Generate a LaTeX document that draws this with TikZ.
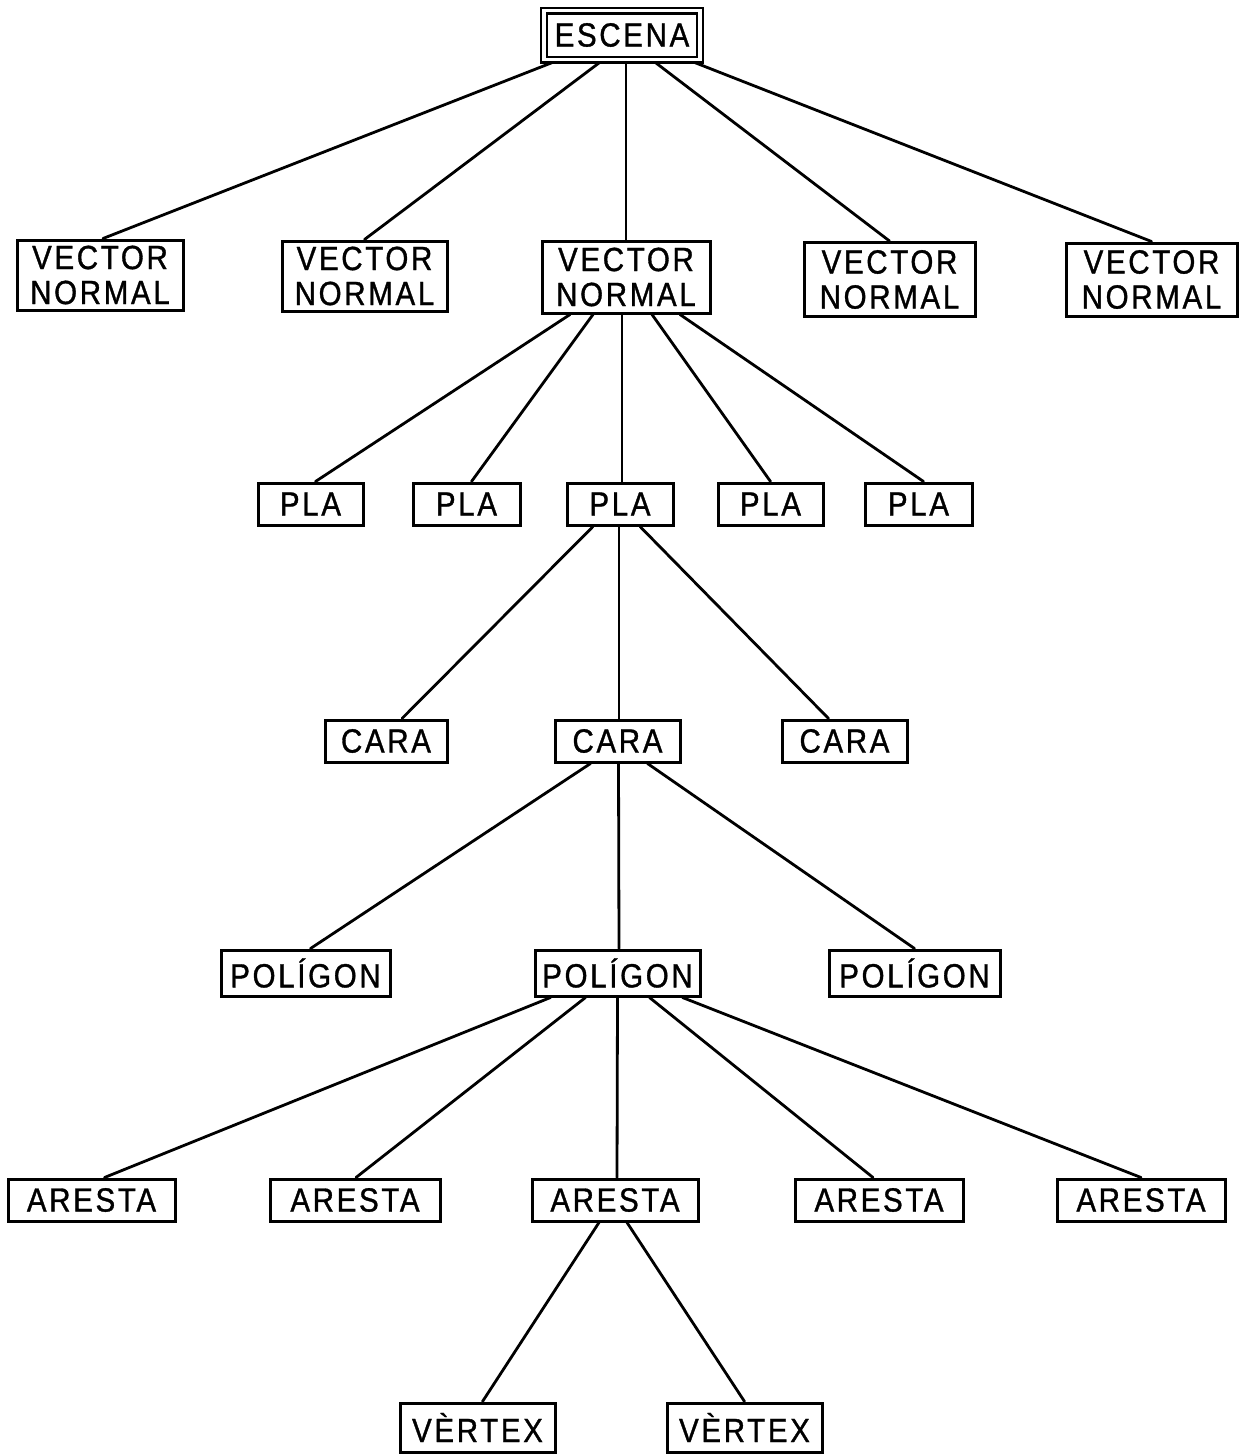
\documentclass[tikz,border=0pt]{standalone}
\usepackage{fontspec}
\setmainfont[FakeStretch=0.88, LetterSpace=8, FakeBold=1]{Liberation Sans}
\usetikzlibrary{backgrounds}
\tikzset{
  box/.style={draw, line width=3pt, fill=white, inner sep=0pt, align=center,
              font=\fontsize{33.5}{35}\selectfont},
  link/.style={line width=2.8pt, line cap=round},
}
% connector from a parent's bottom edge to a child's top edge, with horizontal offsets
\newcommand\conn[4]{\draw[link] ([xshift=#2pt]#1.south) -- ([xshift=#4pt]#3.north);}

\begin{document}
\begin{tikzpicture}[x=1pt,y=-1pt]
\useasboundingbox (0,0) rectangle (1243,1456);

% root
\node[box, double, line width=2.4pt, double distance=3.2pt,
      minimum width=156pt, minimum height=49pt] (escena) at (622,35) {ESCENA};

% normal vectors
\node[box, minimum width=166pt, minimum height=70pt] (vn1) at (100,275)   {VECTOR\\NORMAL};
\node[box, minimum width=165pt, minimum height=70pt] (vn2) at (364.5,276) {VECTOR\\NORMAL};
\node[box, minimum width=168pt, minimum height=72pt] (vn3) at (626,277)   {VECTOR\\NORMAL};
\node[box, minimum width=171pt, minimum height=74pt] (vn4) at (889.5,279.5) {VECTOR\\NORMAL};
\node[box, minimum width=171pt, minimum height=73pt] (vn5) at (1151.5,279.5) {VECTOR\\NORMAL};

% planes
\node[box, minimum width=105pt, minimum height=42pt] (pla1) at (310.5,504) {PLA};
\node[box, minimum width=107pt, minimum height=42pt] (pla2) at (466.5,504) {PLA};
\node[box, minimum width=106pt, minimum height=42pt] (pla3) at (620,504)   {PLA};
\node[box, minimum width=105pt, minimum height=42pt] (pla4) at (770.5,504) {PLA};
\node[box, minimum width=107pt, minimum height=42pt] (pla5) at (918.5,504) {PLA};

% faces
\node[box, minimum width=122pt, minimum height=42pt] (cara1) at (386,741)   {CARA};
\node[box, minimum width=125pt, minimum height=42pt] (cara2) at (617.5,741) {CARA};
\node[box, minimum width=125pt, minimum height=42pt] (cara3) at (844.5,741) {CARA};

% polygons
\node[box, minimum width=169pt, minimum height=46pt] (pol1) at (305.5,973) {POLÍGON};
\node[box, minimum width=165pt, minimum height=46pt] (pol2) at (617.5,973) {POLÍGON};
\node[box, minimum width=171pt, minimum height=46pt] (pol3) at (914.5,973) {POLÍGON};

% edges
\node[box, minimum width=167pt, minimum height=42pt] (ar1) at (91.5,1200) {ARESTA};
\node[box, minimum width=170pt, minimum height=42pt] (ar2) at (355,1200)  {ARESTA};
\node[box, minimum width=166pt, minimum height=42pt] (ar3) at (615,1200)  {ARESTA};
\node[box, minimum width=168pt, minimum height=42pt] (ar4) at (879,1200)  {ARESTA};
\node[box, minimum width=168pt, minimum height=42pt] (ar5) at (1141,1200) {ARESTA};

% vertices
\node[box, minimum width=155pt, minimum height=49pt] (vx1) at (477.5,1427.5) {VÈRTEX};
\node[box, minimum width=155pt, minimum height=49pt] (vx2) at (744.5,1427.5) {VÈRTEX};

\begin{scope}[on background layer]
  \fill[white] (0,0) rectangle (1243,1456);
  \conn{escena}{-65}{vn1}{3}
  \conn{escena}{-20}{vn2}{0}
  \conn{escena}{4}{vn3}{0}
  \conn{escena}{31}{vn4}{0}
  \conn{escena}{68}{vn5}{0}

  \conn{vn3}{-56}{pla1}{5}
  \conn{vn3}{-33}{pla2}{5}
  \conn{vn3}{-4}{pla3}{2}
  \conn{vn3}{26}{pla4}{0}
  \conn{vn3}{54}{pla5}{5}

  \conn{pla3}{-27}{cara1}{16}
  \conn{pla3}{-1}{cara2}{1.5}
  \conn{pla3}{20}{cara3}{-16}

  \conn{cara2}{-27}{pol1}{5}
  \conn{cara2}{1}{pol2}{1.5}
  \conn{cara2}{30}{pol3}{0}

  \conn{pol2}{-67}{ar1}{13}
  \conn{pol2}{-32}{ar2}{1}
  \conn{pol2}{0}{ar3}{2}
  \conn{pol2}{32}{ar4}{-6}
  \conn{pol2}{65}{ar5}{0}

  \conn{ar3}{-16}{vx1}{5}
  \conn{ar3}{12}{vx2}{0}
\end{scope}
\end{tikzpicture}
\end{document}
